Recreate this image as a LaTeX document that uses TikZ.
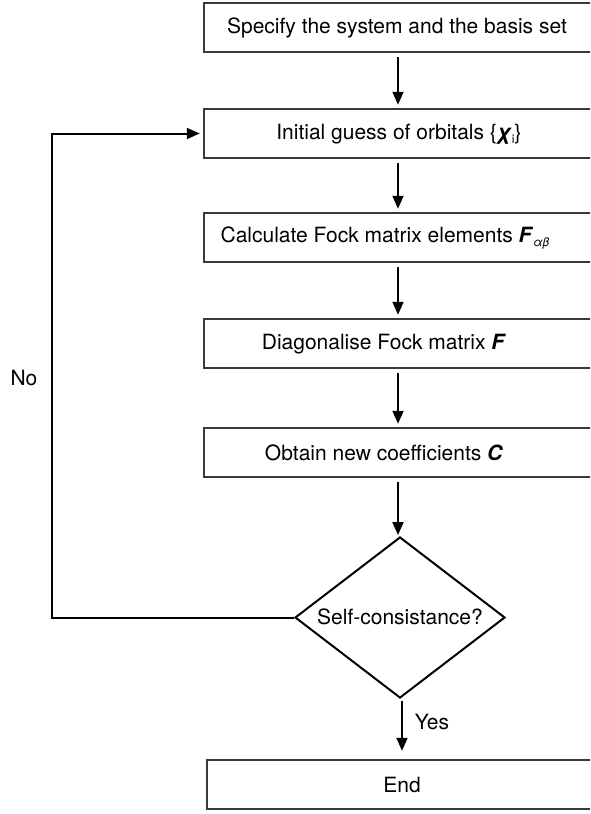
\documentclass[tikz,border=0pt]{standalone}
\usepackage{fontspec}
\setmainfont{TeX Gyre Heros}
\usetikzlibrary{arrows.meta,shapes.geometric}
\newcommand\lowtxt[1]{\raisebox{-4pt}{\fontsize{12}{12}\selectfont #1}}
\definecolor{boxgrey}{HTML}{3A3A3A}
\tikzset{
  stepbox/.style={draw=boxgrey,line width=2.5pt,minimum width=388pt,minimum height=49pt,inner sep=0pt},
  lbl/.style={font=\fontsize{21}{25}\selectfont,inner sep=0pt},
  arr/.style={line width=2pt,-{Triangle[length=13pt,width=11pt]}},
  decision/.style={draw=black,line width=2pt,diamond,inner sep=0pt,minimum width=210pt,minimum height=161pt,font=\fontsize{21}{25}\selectfont}
}
\begin{document}
\begin{tikzpicture}[x=1pt,y=-1pt]
\clip (0,0) rectangle (590,814);
\fill[white] (0,0) rectangle (590,814);
\node[stepbox] (b1) at (398,27.5) {};
\node[stepbox] (b2) at (398,133.5) {};
\node[stepbox] (b3) at (398,237.5) {};
\node[stepbox] (b4) at (398,343.5) {};
\node[stepbox] (b5) at (398,452.5) {};
\node[decision] (d) at (400,617.5) {};
\node[stepbox,minimum width=390pt] (e) at (402,784.5) {};

\node[lbl] (t1) at (397,28) {Specify the system and the basis set};
\node[lbl] (t2) at (399,134) {Initial guess of orbitals \{\textbf{\textit{χ}}\lowtxt{i}\}};
\node[lbl] (t3) at (385,238) {Calculate Fock matrix elements \textbf{\textit{F}}\lowtxt{\textit{αβ}}};
\node[lbl] (t4) at (384,344) {Diagonalise Fock matrix \textbf{\textit{F}}};
\node[lbl] (t5) at (384,453) {Obtain new coefficients \textbf{\textit{C}}};
\node[lbl] (td) at (400,617) {Self-consistance?};
\node[lbl] (te) at (402,785) {End};
\node[lbl] (no) at (24,378) {No};
\node[lbl] (yes) at (432,722) {Yes};

\draw[arr,shorten <=4pt,shorten >=3pt] (b1.south) -- (b2.north);
\draw[arr,shorten <=4pt,shorten >=3pt] (b2.south) -- (b3.north);
\draw[arr,shorten <=4pt,shorten >=3pt] (b3.south) -- (b4.north);
\draw[arr,shorten <=4pt,shorten >=3pt] (b4.south) -- (b5.north);
\draw[arr,shorten <=4pt,shorten >=1pt] (b5.south) -- (b5.south |- d.north);
\draw[arr,shorten <=2pt,shorten >=8pt] (d.south -| e.north) -- (e.north);
\coordinate (lc) at (52,617.5);
\draw[arr,shorten >=3pt] (d.west) -- (lc) |- (b2.west);
\end{tikzpicture}
\end{document}
